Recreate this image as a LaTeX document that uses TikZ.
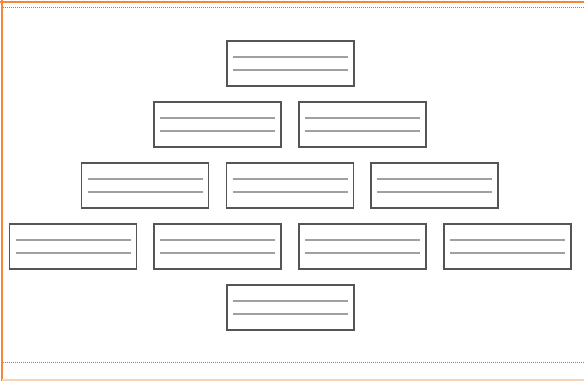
\documentclass[tikz,border=0pt]{standalone}
\usetikzlibrary{calc}
\definecolor{frameorange}{HTML}{F4883A}
\definecolor{lightorange}{HTML}{F9D2B4}
\definecolor{boxgray}{HTML}{555555}
\definecolor{linegray}{HTML}{A0A0A0}
\definecolor{dotgray}{HTML}{888888}
\tikzset{
  x=1pt,y=-1pt,
  cardbox/.style={draw=boxgray,line width=1.2pt,fill=white,minimum width=127pt,minimum height=45pt,inner sep=0pt,outer sep=0pt},
  ruleline/.style={draw=linegray,line width=1.1pt},
  dotline/.style={draw=dotgray,line width=0.9pt,dash pattern=on 1pt off 1pt}
}
\newcommand{\cardlines}[1]{%
  \draw[ruleline] ($(#1.north west)+(6,16)$) -- ($(#1.north east)+(-6,16)$);
  \draw[ruleline] ($(#1.north west)+(6,29)$) -- ($(#1.north east)+(-6,29)$);
}
\begin{document}
\begin{tikzpicture}
\useasboundingbox (0,0) rectangle (584,381);
\fill[white] (0,0) rectangle (584,381);
% frame
\draw[frameorange,line width=2pt] (0,1.5) -- (584,1.5);
\draw[frameorange,line width=2pt] (1.5,0) -- (1.5,381);
\draw[lightorange,line width=1.5pt] (1.5,380) -- (584,380);
\draw[dotline] (3,7.5) -- (584,7.5);
\draw[dotline] (3,362.5) -- (584,362.5);
% boxes
\node[cardbox] (r1) at (290.5,63.5) {};
\node[cardbox] (r2a) at (217.5,124.5) {};
\node[cardbox] (r2b) at (362.5,124.5) {};
\node[cardbox] (r3a) at (145,185.5) {};
\node[cardbox] (r3b) at (290,185.5) {};
\node[cardbox] (r3c) at (434.5,185.5) {};
\node[cardbox] (r4a) at (73,246.5) {};
\node[cardbox] (r4b) at (217.5,246.5) {};
\node[cardbox] (r4c) at (362.5,246.5) {};
\node[cardbox] (r4d) at (507.5,246.5) {};
\node[cardbox] (r5) at (290.5,307.5) {};
\cardlines{r1}
\cardlines{r2a}
\cardlines{r2b}
\cardlines{r3a}
\cardlines{r3b}
\cardlines{r3c}
\cardlines{r4a}
\cardlines{r4b}
\cardlines{r4c}
\cardlines{r4d}
\cardlines{r5}
\end{tikzpicture}
\end{document}
